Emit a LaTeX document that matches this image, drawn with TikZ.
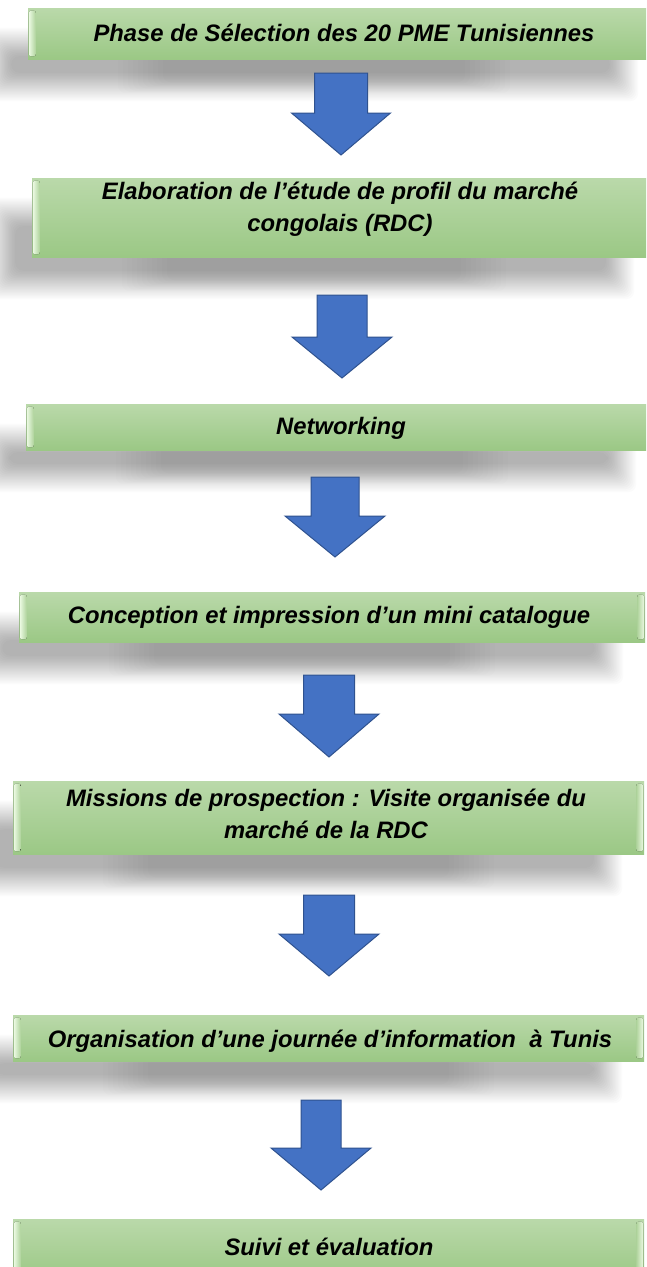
\documentclass[tikz,border=0pt]{standalone}
\usepackage{fontspec}
\setmainfont{Liberation Sans}
\definecolor{gtop}{RGB}{186,217,170}
\definecolor{gbot}{RGB}{155,200,133}
\definecolor{glight}{RGB}{236,250,226}
\definecolor{afill}{RGB}{68,114,196}
\definecolor{aline}{RGB}{47,82,143}
\pgfdeclarelayer{bg}
\pgfsetlayers{bg,main}
\newcommand\blockarr[6]{% cx, top, head start, tip, shaft half width, head half width
  \draw[blockarrow] ({#1-#5},#2) -- ({#1+#5},#2) -- ({#1+#5},#3) -- ({#1+#6},#3)
    -- (#1,#4) -- ({#1-#6},#3) -- ({#1-#5},#3) -- cycle;}
\newcommand\softshadow[1]{%
  \foreach \k in {0,1,...,19}{
    \fill[shadowstep] ([shift={(-45+1.5*\k,20+1.5*\k)}]#1.north west)
      rectangle ([shift={(-22-1.5*\k,42-1.5*\k)}]#1.south east);
  }
  \foreach \k in {0,1,...,9}{
    \fill[shadowstep, opacity=0.008] ([shift={(90+5*\k,20+\k)}]#1.north west)
      rectangle ([shift={(-150-5*\k,34-1.2*\k)}]#1.south east);
  }}
\begin{document}
\begin{tikzpicture}[x=1pt,y=-1pt,
  stepbox/.style={rectangle, inner sep=0pt, draw=none, top color=gtop, bottom color=gbot},
  steptext/.style={inner sep=0pt, align=center, text=black,
    font=\bfseries\itshape\fontsize{23.8}{31.5}\selectfont},
  shadowstep/.style={black, opacity=0.0145, rounded corners=8pt},
  bevel/.style={rounded corners=2pt, left color=glight, right color=gtop!60!gbot},
  bevelr/.style={rounded corners=2pt, right color=glight, left color=gtop!60!gbot},
  blockarrow/.style={fill=afill, draw=aline, line width=1pt, line join=miter}]
\useasboundingbox (0,0) rectangle (646,1267);
\clip (0,0) rectangle (646,1267);

% boxes
\node[stepbox, minimum width=632, minimum height=51] (b1) at (344,33.5) {};
\node[stepbox, minimum width=624, minimum height=79] (b2) at (344,217.5) {};
\node[stepbox, minimum width=632, minimum height=46] (b3) at (342,427) {};
\node[stepbox, minimum width=626, minimum height=50] (b4) at (332,617) {};
\node[stepbox, minimum width=631, minimum height=73] (b5) at (328.5,817.5) {};
\node[stepbox, minimum width=631, minimum height=46] (b6) at (328.5,1038) {};
\node[stepbox, minimum width=631, minimum height=60] (b7) at (328.5,1249) {};

\begin{pgfonlayer}{bg}
  \fill[white] (0,0) rectangle (646,1267);
  \softshadow{b1}\softshadow{b2}\softshadow{b3}\softshadow{b4}
  \softshadow{b5}\softshadow{b6}
\end{pgfonlayer}

% left bevels
\foreach \b in {b1,b2,b3,b4,b5,b6,b7}{
  \fill[bevel] ([shift={(1,3)}]\b.north west) rectangle ([shift={(8,-3)}]\b.south west);
}
% right bevels
\foreach \b in {b3,b4,b5,b6,b7}{
  \fill[bevelr] ([shift={(-8,3)}]\b.north east) rectangle ([shift={(-1,-3)}]\b.south east);
}

% texts
\node[steptext] (t1) at (344,33) {Phase de Sélection des 20 PME Tunisiennes};
\node[steptext] (t2) at (340,209) {Elaboration de l’étude de profil du marché\\congolais (RDC)};
\node[steptext] (t3) at (341,428) {Networking};
\node[steptext] (t4) at (329,617) {Conception et impression d’un mini catalogue};
\node[steptext] (t5) at (326,814) {Missions de prospection : Visite organisée du\\marché de la RDC};
\node[steptext] (t6) at (330,1041) {Organisation d’une journée d’information \ à Tunis};
\node[steptext] (t7) at (329,1247) {Suivi et évaluation};

% arrows
\blockarr{341}{73}{113}{155}{26.5}{49.5}
\blockarr{342}{295}{337}{378}{25}{50}
\blockarr{335}{477}{516}{557}{24}{50}
\blockarr{329}{675}{714}{757}{25.5}{50}
\blockarr{329}{895}{934}{976}{25.5}{50}
\blockarr{321}{1100}{1148}{1190}{20}{50}
\end{tikzpicture}
\end{document}
